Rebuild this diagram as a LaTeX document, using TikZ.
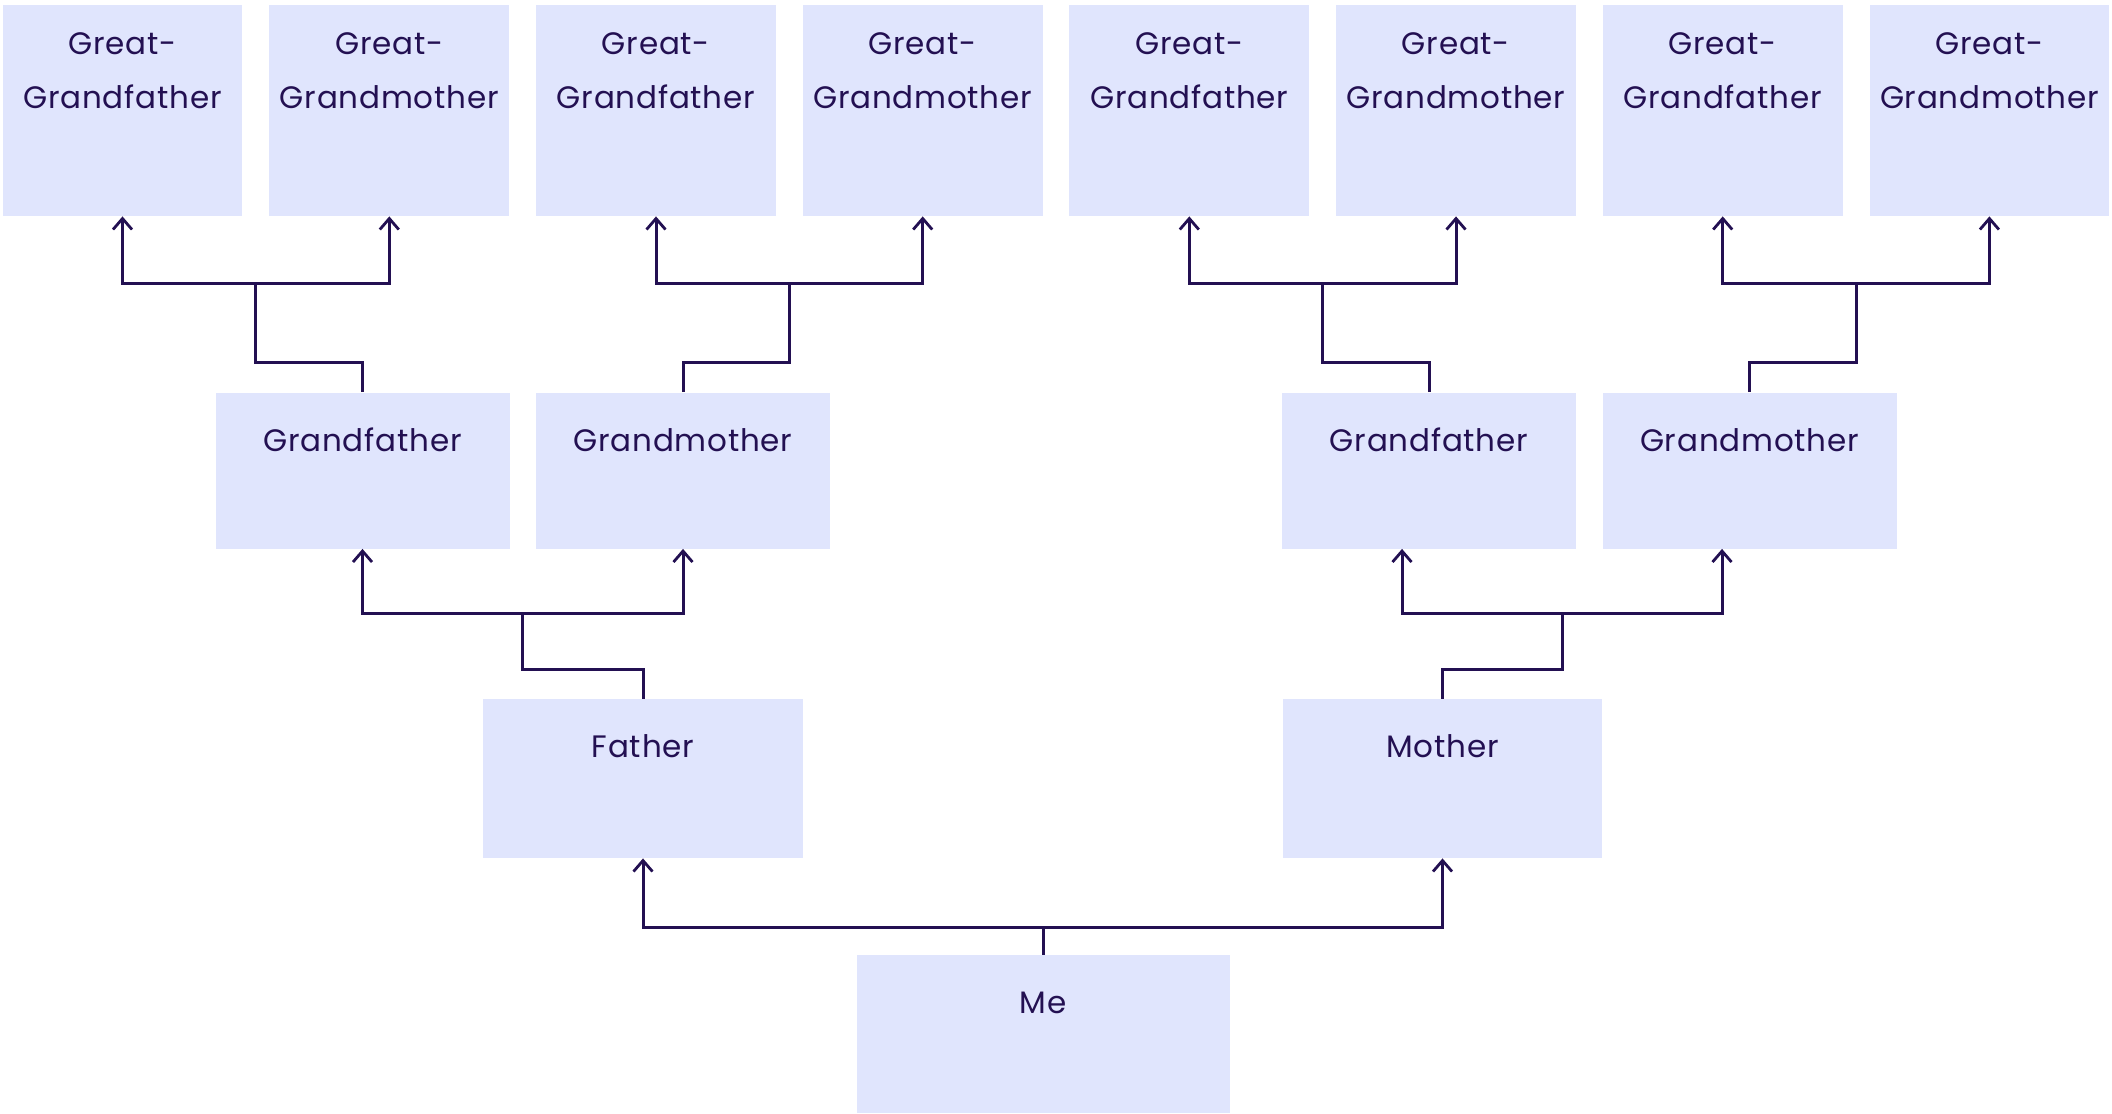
\documentclass[tikz,border=0pt]{standalone}
\usepackage{fontspec}
\setmainfont{Poppins}[LetterSpace=2.5]
\usetikzlibrary{arrows.meta,calc}
\definecolor{boxfill}{HTML}{E0E5FD}
\definecolor{ink}{HTML}{231052}
\tikzset{
  famnode/.style={fill=boxfill, draw=none, inner sep=0pt},
  ggbox/.style={famnode, minimum width=119.85pt, minimum height=105.5pt},
  gfbox/.style={famnode, minimum width=147pt, minimum height=78pt},
  pbox/.style={famnode, minimum width=159.75pt, minimum height=79.5pt},
  mebox/.style={famnode, minimum width=186.5pt, minimum height=79pt},
  lbl/.style={anchor=center, text=ink, font=\fontsize{15.5}{27}\selectfont, text height=10.8pt, text depth=0pt, yshift=-24.2pt},
  lbltwo/.style={anchor=center, text=ink, align=center, font=\fontsize{15.5}{27}\selectfont, yshift=-33pt},
  link/.style={draw=ink, line width=1.5pt},
  uparrow/.style={link, -{Straight Barb[length=5.5pt,width=9.5pt,line width=1.4pt]}},
}
\begin{document}
\begin{tikzpicture}[x=0.5pt,y=-0.5pt]
\useasboundingbox (0,0) rectangle (2112,1113);
% great-grandparents
\node[ggbox, label={[lbltwo]north:Great-\\Grandfather}] (gg1) at (122.5,110.5) {};
\node[ggbox, label={[lbltwo]north:Great-\\Grandmother}] (gg2) at (389.3,110.5) {};
\node[ggbox, label={[lbltwo]north:Great-\\Grandfather}] (gg3) at (656,110.5) {};
\node[ggbox, label={[lbltwo]north:Great-\\Grandmother}] (gg4) at (922.7,110.5) {};
\node[ggbox, label={[lbltwo]north:Great-\\Grandfather}] (gg5) at (1189.3,110.5) {};
\node[ggbox, label={[lbltwo]north:Great-\\Grandmother}] (gg6) at (1456,110.5) {};
\node[ggbox, label={[lbltwo]north:Great-\\Grandfather}] (gg7) at (1722.7,110.5) {};
\node[ggbox, label={[lbltwo]north:Great-\\Grandmother}] (gg8) at (1989.4,110.5) {};
% grandparents
\node[gfbox, label={[lbl]north:Grandfather}] (gf1) at (362.5,470.5) {};
\node[gfbox, label={[lbl]north:Grandmother}] (gm1) at (683,470.5) {};
\node[gfbox, label={[lbl]north:Grandfather}] (gf2) at (1429,470.5) {};
\node[gfbox, label={[lbl]north:Grandmother}] (gm2) at (1749.5,470.5) {};
% parents
\node[pbox, label={[lbl]north:Father}] (fa) at (643,778.5) {};
\node[pbox, label={[lbl]north:Mother}] (mo) at (1442.5,778.5) {};
% me
\node[mebox, label={[lbl]north:Me}] (me) at (1043,1034) {};

% me -> parents
\draw[uparrow] (me.north) -- ++(0,-27) -| (fa.south);
\draw[uparrow] (me.north) -- ++(0,-27) -| (mo.south);

% father -> grandparents
\coordinate (fb) at ($(gf1.south)!.5!(gm1.south)+(0,65)$);
\draw[uparrow] (fa.north) -- ++(0,-29.5) -| (fb) -| (gf1.south);
\draw[uparrow] (fb) -| (gm1.south);

% mother -> grandparents (arrows left of centre)
\coordinate (gf2a) at ($(gf2.south)+(-27,0)$);
\coordinate (gm2a) at ($(gm2.south)+(-27.5,0)$);
\coordinate (mb) at ($(gf2a)!.5!(gm2a)+(0,65)$);
\draw[uparrow] (mo.north) -- ++(0,-29.5) -| (mb) -| (gf2a);
\draw[uparrow] (mb) -| (gm2a);

% grandparents -> great-grandparents
\coordinate (b1) at ($(gg1.south)!.5!(gg2.south)+(0,67)$);
\draw[uparrow] (gf1.north) -- ++(0,-30) -| (b1) -| (gg1.south);
\draw[uparrow] (b1) -| (gg2.south);

\coordinate (b2) at ($(gg3.south)!.5!(gg4.south)+(0,67)$);
\draw[uparrow] (gm1.north) -- ++(0,-30) -| (b2) -| (gg3.south);
\draw[uparrow] (b2) -| (gg4.south);

\coordinate (b3) at ($(gg5.south)!.5!(gg6.south)+(0,67)$);
\draw[uparrow] (gf2.north) -- ++(0,-30) -| (b3) -| (gg5.south);
\draw[uparrow] (b3) -| (gg6.south);

\coordinate (b4) at ($(gg7.south)!.5!(gg8.south)+(0,67)$);
\draw[uparrow] (gm2.north) -- ++(0,-30) -| (b4) -| (gg7.south);
\draw[uparrow] (b4) -| (gg8.south);
\end{tikzpicture}
\end{document}
